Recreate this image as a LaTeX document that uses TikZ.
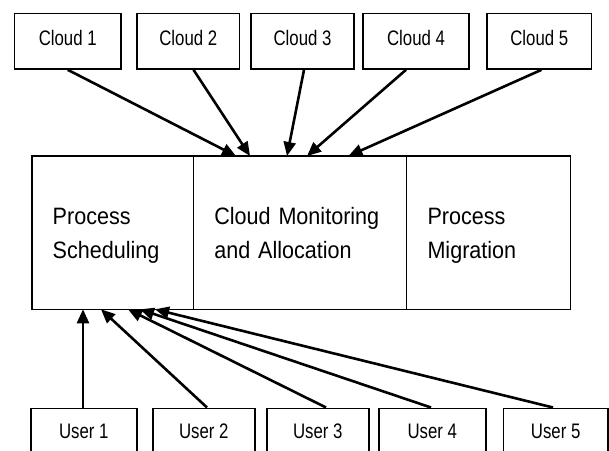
\documentclass[tikz,border=0pt]{standalone}
\usepackage{fontspec}
\newfontfamily\cloudfont[FakeStretch=0.8]{Liberation Sans}
\newfontfamily\partfont[FakeStretch=0.91]{Liberation Sans}
\usetikzlibrary{arrows.meta}

\tikzset{
  smallbox/.style={draw, line width=1.6pt, inner sep=0pt,
    font=\cloudfont\fontsize{21}{25}\selectfont, text height=15.3pt},
  partbox/.style={draw, line width=1.6pt, inner xsep=21pt, inner ysep=0pt,
    minimum height=153.3pt, align=left,
    font=\partfont\fontsize{23.7}{33.5}\selectfont,
    text height=17.5pt, text depth=33.5pt},
  feed/.style={line width=2.6pt, -{Triangle[length=14pt,width=12pt]}}
}

\begin{document}
\begin{tikzpicture}[x=1pt, y=-1pt]
  \clip (0,0) rectangle (609,450);

  % Clouds
  \foreach \i/\x/\w in {1/67.75/106.5, 2/188.25/102.5, 3/302.5/103, 4/416/106, 5/539.25/104.5}
    \node[smallbox, minimum width=\w pt, minimum height=55.5pt, text depth=7.8pt] (cloud\i) at (\x,41.25) {Cloud \i};

  % Main box
  \node[partbox, text width=119.6pt] (sched) at (112.5,232.65) {Process\\Scheduling};
  \node[partbox, text width=171.2pt] (monit) at (299.9,232.65) {Cloud Monitoring\\and Allocation};
  \node[partbox, text width=122.1pt] (migr) at (488.55,232.65) {Process\\Migration};

  % Users
  \foreach \i/\x/\w in {1/83.85/105.7, 2/203.85/102.3, 3/317.85/102.3, 4/432.35/106.7, 5/555.65/104.7}
    \node[smallbox, minimum width=\w pt, minimum height=46pt, text depth=1pt] (user\i) at (\x,431.3) {User \i};

  % Clouds to monitoring
  \foreach \i/\s/\t in {1/0/236, 2/5.25/250, 3/1.5/287, 4/-10/307, 5/2.25/348.5} {
    \coordinate (cin\i) at (\t,156);
    \draw[feed] ([xshift=\s pt]cloud\i.south) -- (cin\i);
  }

  % Users to scheduling
  \foreach \i/\s/\t in {1/-0.85/83, 2/3.15/101, 3/8.15/128, 4/-1.35/140, 5/-2.65/155} {
    \coordinate (uin\i) at (\t,309.3);
    \draw[feed] ([xshift=\s pt]user\i.north) -- (uin\i);
  }
\end{tikzpicture}
\end{document}
